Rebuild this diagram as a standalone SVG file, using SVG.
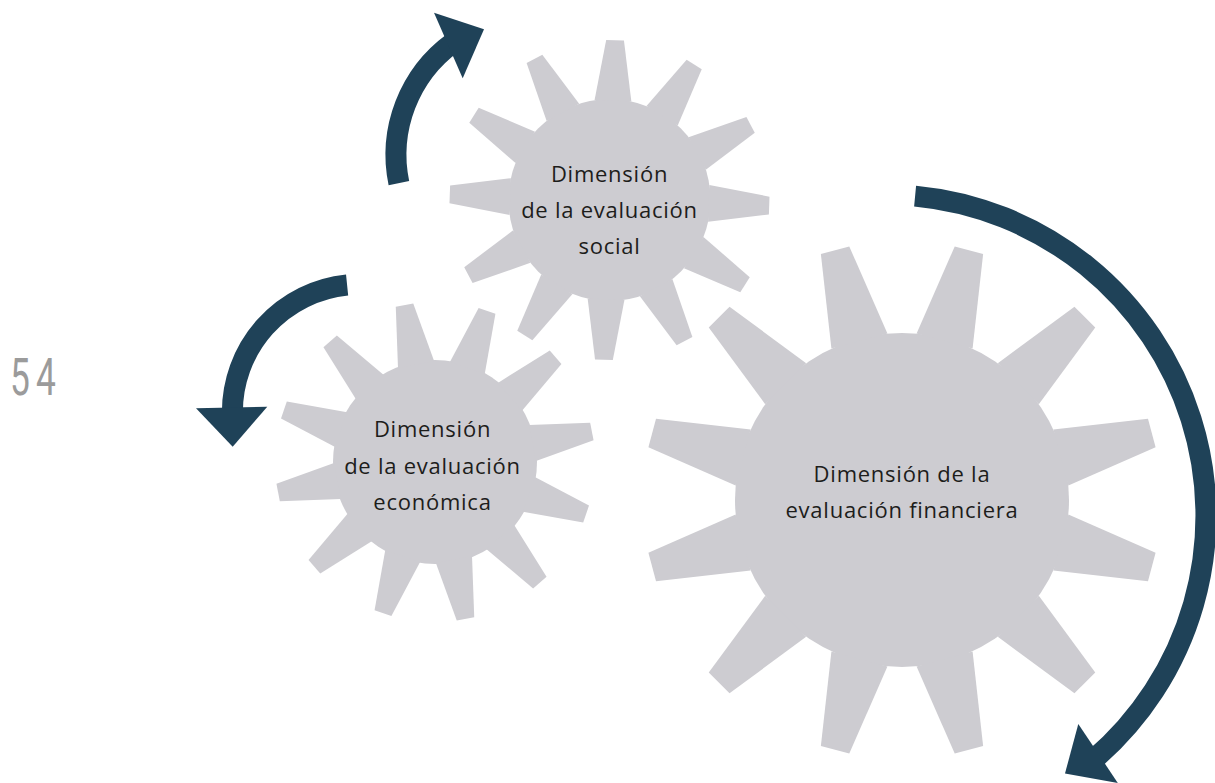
<svg xmlns="http://www.w3.org/2000/svg" width="1215" height="783" viewBox="0 0 1215 783">
  <style>
    .gear { fill: #cdccd1; }
    .label { font-family: "Open Sans", "Noto Sans", sans-serif; font-size: 22px; letter-spacing: 0.75px; fill: #1d1d1b; text-anchor: middle; }
    .shaft { fill: none; stroke: #1f4258; stroke-width: 21; stroke-linecap: butt; }
    .head { fill: #1f4258; }
    .page { font-family: Roboto, "Liberation Sans", sans-serif; font-weight: 400; font-size: 52px; fill: #9b9b9b; letter-spacing: 9px; }
  </style>
  <defs>
    <polygon id="toothS" points="99.3,-18.4 159.8,-8.9 159.8,8.9 99.3,18.4"/>
    <polygon id="toothL" points="164.5,-29 258.6,-14.7 258.6,14.7 164.5,29"/>
  </defs>

  <text class="page" transform="translate(10,395) scale(0.68,1)" x="0" y="0">54</text>

  <g id="gear-social">
    <g class="gear" transform="translate(609.5,200)">
      <circle r="101"/>
      <use href="#toothS" transform="rotate(2)"/>
      <use href="#toothS" transform="rotate(32)"/>
      <use href="#toothS" transform="rotate(62)"/>
      <use href="#toothS" transform="rotate(92)"/>
      <use href="#toothS" transform="rotate(122)"/>
      <use href="#toothS" transform="rotate(152)"/>
      <use href="#toothS" transform="rotate(182)"/>
      <use href="#toothS" transform="rotate(212)"/>
      <use href="#toothS" transform="rotate(242)"/>
      <use href="#toothS" transform="rotate(272)"/>
      <use href="#toothS" transform="rotate(302)"/>
      <use href="#toothS" transform="rotate(332)"/>
    </g>
    <text class="label" x="609.5" y="182">Dimensión</text>
    <text class="label" x="609.5" y="218">de la evaluación</text>
    <text class="label" x="609.5" y="254">social</text>
  </g>

  <g id="gear-economica">
    <g class="gear" transform="translate(435,462)">
      <circle r="102"/>
      <use href="#toothS" transform="rotate(19)"/>
      <use href="#toothS" transform="rotate(49)"/>
      <use href="#toothS" transform="rotate(79)"/>
      <use href="#toothS" transform="rotate(109)"/>
      <use href="#toothS" transform="rotate(139)"/>
      <use href="#toothS" transform="rotate(169)"/>
      <use href="#toothS" transform="rotate(199)"/>
      <use href="#toothS" transform="rotate(229)"/>
      <use href="#toothS" transform="rotate(259)"/>
      <use href="#toothS" transform="rotate(289)"/>
      <use href="#toothS" transform="rotate(319)"/>
      <use href="#toothS" transform="rotate(349)"/>
    </g>
    <text class="label" x="432.5" y="437">Dimensión</text>
    <text class="label" x="432.5" y="474">de la evaluación</text>
    <text class="label" x="432.5" y="510">económica</text>
  </g>

  <g id="gear-financiera">
    <g class="gear" transform="translate(902,500)">
      <circle r="167"/>
      <use href="#toothL" transform="rotate(15)"/>
      <use href="#toothL" transform="rotate(45)"/>
      <use href="#toothL" transform="rotate(75)"/>
      <use href="#toothL" transform="rotate(105)"/>
      <use href="#toothL" transform="rotate(135)"/>
      <use href="#toothL" transform="rotate(165)"/>
      <use href="#toothL" transform="rotate(195)"/>
      <use href="#toothL" transform="rotate(225)"/>
      <use href="#toothL" transform="rotate(255)"/>
      <use href="#toothL" transform="rotate(285)"/>
      <use href="#toothL" transform="rotate(315)"/>
      <use href="#toothL" transform="rotate(345)"/>
    </g>
    <text class="label" x="902" y="482">Dimensión de la</text>
    <text class="label" x="902" y="518">evaluación financiera</text>
  </g>

  <g id="connectors">
    <path class="shaft" d="M398.9,183.2 A139,139 0 0 1 453.3,42.5"/>
    <polygon class="head" points="434,12.7 484,29.3 462.7,78.3"/>
    <path class="shaft" d="M347.1,285 A127.6,127.6 0 0 0 232.4,413.1"/>
    <polygon class="head" points="196,408.3 267.3,406.7 232.7,446.7"/>
    <path class="shaft" d="M915.1,196.1 A321,321 0 0 1 1093.4,759.8"/>
    <polygon class="head" points="1078.3,723.9 1117.8,782.9 1065,773.5"/>
  </g>
</svg>
